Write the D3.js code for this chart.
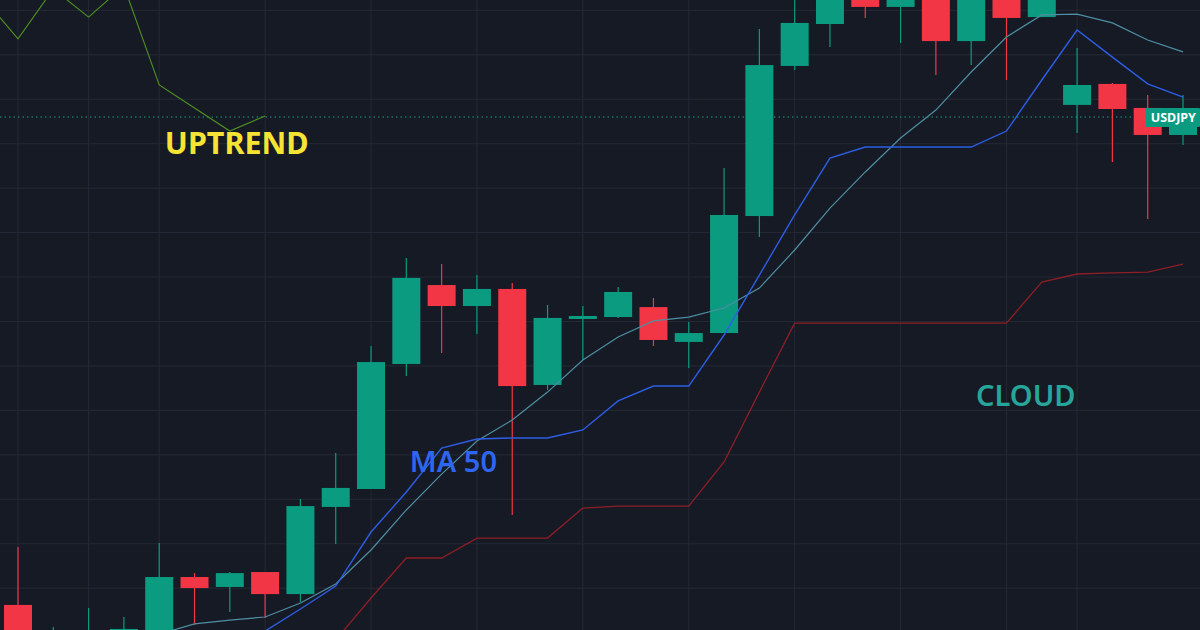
<!DOCTYPE html>
<html>
<head>
<meta charset="utf-8">
<script src="https://cdn.jsdelivr.net/npm/d3@7/dist/d3.min.js"></script>
<style>
  html, body { margin: 0; padding: 0; background: #161a25; }
  svg { display: block; }
</style>
</head>
<body>
<svg id="chart" width="1200" height="630"></svg>
<script>
// ---- data (USDJPY daily candles) ----
const symbol = "USDJPY";
const openVals  = [146.656,146.346,146.374,146.402,146.431,146.813,146.757,146.841,146.717,147.207,147.308,148.011,148.455,148.337,148.433,147.893,148.264,148.275,148.331,148.135,148.185,148.843,149.687,149.923,150.142,150.019,150.227,149.827,150.086,149.962,149.468,149.586,149.451,149.299];
const highVals  = [146.982,146.532,146.639,146.588,147.004,146.835,146.841,146.841,147.252,147.510,148.112,148.607,148.573,148.511,148.466,148.343,148.337,148.444,148.382,148.247,149.113,149.895,150.114,150.255,150.227,150.283,150.311,150.227,150.199,150.227,149.788,149.591,149.524,149.524];
const lowVals   = [146.374,146.318,146.346,146.374,146.402,146.543,146.616,146.582,146.672,146.999,147.308,147.943,148.073,148.180,147.162,147.865,148.033,148.270,148.112,147.988,148.185,148.725,149.664,149.794,149.957,149.816,149.636,149.692,149.608,149.962,149.310,149.147,148.826,149.243];
const closeVals = [146.459,146.448,146.470,146.521,146.813,146.751,146.835,146.717,147.212,147.314,148.022,148.495,148.337,148.433,147.887,148.270,148.281,148.416,148.146,148.185,148.849,149.692,149.929,150.170,150.019,150.199,149.827,150.114,149.957,150.142,149.580,149.445,149.299,149.400];

// fast moving average (thin grey-teal line)
const maFast = [146.414,146.431,146.453,146.476,146.492,146.549,146.571,146.588,146.667,146.774,146.965,147.190,147.392,147.578,147.696,147.853,148.033,148.163,148.253,148.275,148.326,148.438,148.652,148.888,149.091,149.282,149.439,149.653,149.850,149.974,149.979,149.929,149.833,149.766];
// MA 50 (blue)
const ma50 = [146.234,146.279,146.318,146.357,146.391,146.425,146.459,146.509,146.633,146.762,147.066,147.291,147.538,147.589,147.595,147.595,147.640,147.803,147.887,147.887,148.174,148.511,148.849,149.169,149.231,149.231,149.231,149.231,149.321,149.608,149.889,149.737,149.586,149.512];
// cloud edge (dark red)
const cloudLine = [146.009,146.037,146.065,146.093,146.121,146.149,146.177,146.206,146.234,146.459,146.695,146.920,146.920,147.032,147.032,147.032,147.201,147.212,147.212,147.212,147.460,147.853,148.241,148.241,148.241,148.241,148.241,148.241,148.241,148.472,148.517,148.523,148.528,148.573];
// lagging span (green), indices -1..7
const lagIndex = [-1,0,1,2,3,4,5,6,7];
const lagVals  = [150.075,149.839,150.120,149.962,150.137,149.580,149.451,149.321,149.406];

const gridPrices = [150.00,149.75,149.50,149.25,149.00,148.75,148.50,148.25,148.00,147.75,147.50,147.25,147.00,146.75];
const gridBars = [0,2,4,7,10,13,16,19,22,25,28,30];

const labels = [
  {text: "UPTREND", idx: 4.16, price: 149.192, color: "#f6e434", size: 30.5, weight: 700},
  {text: "MA 50",   idx: 11.1, price: 147.403, color: "#2f66f0", size: 29, weight: 600},
  {text: "CLOUD",   idx: 27.14, price: 147.775, color: "#26a69a", size: 29, weight: 600}
];

// ---- drawing ----
const W = 1200, H = 630;
const svg = d3.select("#chart");
const n = openVals.length;
const x = d3.scaleLinear().domain([0, 33]).range([18, 1183]);
const y = d3.scaleLinear().domain([150.058, 146.515]).range([0, H]);
const bodyW = 28;

svg.append("rect").attr("width", W).attr("height", H).attr("fill", "#161a25");

const grid = svg.append("g");
grid.selectAll("line.h").data(gridPrices).join("line")
  .attr("x1", 0).attr("x2", W)
  .attr("y1", d => y(d)).attr("y2", d => y(d))
  .attr("stroke", "#252935").attr("stroke-width", 1);
grid.selectAll("line.v").data(gridBars).join("line")
  .attr("x1", d => x(d)).attr("x2", d => x(d))
  .attr("y1", 0).attr("y2", H)
  .attr("stroke", "#252935").attr("stroke-width", 1);

// last price dotted line
const lastClose = closeVals[n - 1];
svg.append("line")
  .attr("x1", 0).attr("x2", W)
  .attr("y1", y(lastClose)).attr("y2", y(lastClose))
  .attr("stroke", "#1f9c85").attr("stroke-width", 1)
  .attr("stroke-dasharray", "1.5,3");

const line = d3.line().x(d => x(d[0])).y(d => y(d[1]));
const idx = d3.range(n);

svg.append("path").datum(lagIndex.map((d, i) => [d, lagVals[i]]))
  .attr("d", line).attr("fill", "none").attr("stroke", "#4f9222").attr("stroke-width", 1.1);
svg.append("path").datum(idx.map(i => [i, cloudLine[i]]))
  .attr("d", line).attr("fill", "none").attr("stroke", "#8e1e26").attr("stroke-width", 1.3);

// candles
const candles = svg.append("g");
const up = i => closeVals[i] >= openVals[i];
const col = i => up(i) ? "#0b9b81" : "#f23645";
candles.selectAll("line").data(idx).join("line")
  .attr("x1", i => x(i)).attr("x2", i => x(i))
  .attr("y1", i => y(highVals[i])).attr("y2", i => y(lowVals[i]))
  .attr("stroke", col).attr("stroke-width", 1.2);
candles.selectAll("rect").data(idx).join("rect")
  .attr("x", i => x(i) - bodyW / 2)
  .attr("width", bodyW)
  .attr("y", i => y(Math.max(openVals[i], closeVals[i])))
  .attr("height", i => Math.max(2, Math.abs(y(openVals[i]) - y(closeVals[i]))))
  .attr("fill", col);

svg.append("path").datum(idx.map(i => [i, maFast[i]]))
  .attr("d", line).attr("fill", "none").attr("stroke", "#4f8ea2").attr("stroke-width", 1.2);
svg.append("path").datum(idx.map(i => [i, ma50[i]]))
  .attr("d", line).attr("fill", "none").attr("stroke", "#2d5ee6").attr("stroke-width", 1.4);

// text labels
svg.selectAll("text.lbl").data(labels).join("text")
  .attr("class", "lbl")
  .attr("x", d => x(d.idx)).attr("y", d => y(d.price))
  .attr("fill", d => d.color)
  .attr("font-family", "'Noto Sans', 'Open Sans', sans-serif")
  .attr("font-size", d => d.size).attr("font-weight", d => d.weight)
  .text(d => d.text);

// symbol tag
const tag = svg.append("g").attr("transform", `translate(${x(32) - 2},${y(lastClose) - 9})`);
tag.append("rect").attr("width", W - x(32) + 2).attr("height", 19).attr("rx", 1).attr("fill", "#0b9b81");
tag.append("text").attr("x", 5).attr("y", 14)
  .attr("fill", "#ffffff").attr("font-family", "'Noto Sans', sans-serif")
  .attr("font-size", 12.5).attr("font-weight", 700)
  .text(symbol);
</script>
</body>
</html>
